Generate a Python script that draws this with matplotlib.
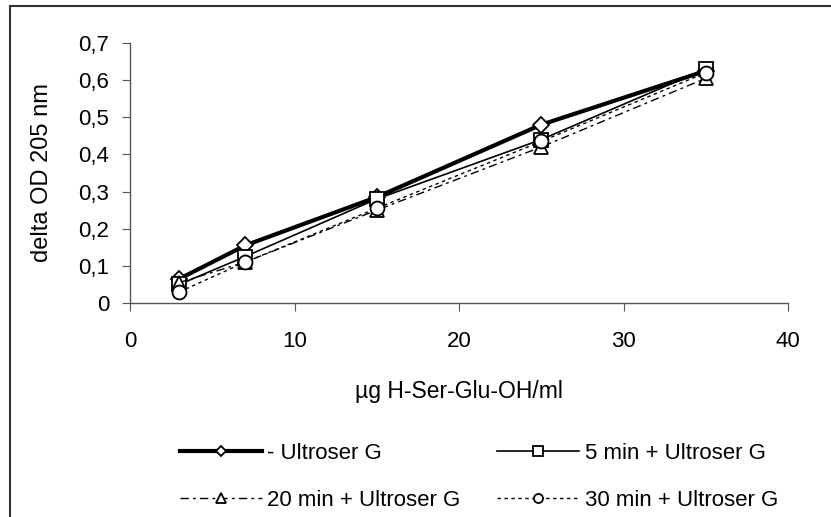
import matplotlib
matplotlib.use("Agg")
import matplotlib.pyplot as plt
from matplotlib.patches import Rectangle
from matplotlib.ticker import FuncFormatter

plt.rcParams['font.family'] = ['Liberation Sans', 'DejaVu Sans']

# data
conc = [3, 7, 15, 25, 35]
no_ultroser = [0.065, 0.155, 0.285, 0.48, 0.625]
min5 = [0.05, 0.125, 0.28, 0.44, 0.63]
min20 = [0.055, 0.11, 0.25, 0.42, 0.605]
min30 = [0.03, 0.11, 0.255, 0.435, 0.62]

labels = ['- Ultroser G', '5 min + Ultroser G', '20 min + Ultroser G', '30 min + Ultroser G']

fig = plt.figure(figsize=(8.31, 5.17), dpi=100)
ax = fig.add_axes([130/831, 1-303/517, (788-130)/831, (303-43)/517])

mk = dict(markerfacecolor='white', markeredgecolor='black', markersize=10, markeredgewidth=1.3)
ax.plot(conc, no_ultroser, color='black', lw=3, marker='D', label=labels[0], **{**mk, 'markersize': 8})
ax.plot(conc, min5, color='black', lw=1.2, marker='s', label=labels[1], **mk)
ax.plot(conc, min20, color='black', lw=1.0, ls=(0, (6, 3, 2, 3)), marker='^', label=labels[2], **mk)
ax.plot(conc, min30, color='black', lw=1.0, ls=(0, (2.5, 2.5)), marker='o', label=labels[3], **mk)

ax.set_xlim(0, 40)
ax.set_ylim(0, 0.7)
ax.set_xticks([0, 10, 20, 30, 40])
ax.set_yticks([0, 0.1, 0.2, 0.3, 0.4, 0.5, 0.6, 0.7])
ax.yaxis.set_major_formatter(FuncFormatter(lambda v, p: ('%g' % round(v, 1)).replace('.', ',')))
for s in ['top', 'right']:
    ax.spines[s].set_visible(False)
for s in ['left', 'bottom']:
    ax.spines[s].set_color('#555555')
    ax.spines[s].set_linewidth(1.0)
ax.tick_params(direction='out', length=6, color='#555555', labelsize=16)
ax.tick_params(axis='x', pad=14)
ax.tick_params(axis='y', pad=9)
ax.set_xlabel('µg H-Ser-Glu-OH/ml', fontsize=16.5, labelpad=20)
ax.set_ylabel('delta OD 205 nm', fontsize=17, labelpad=18)

# legend rows: (- Ultroser G, 5 min) then (20 min, 30 min)
handles, labs = ax.get_legend_handles_labels()
order = [0, 2, 1, 3]
leg = fig.legend([handles[i] for i in order], [labs[i] for i in order], ncol=2, frameon=False,
                 loc='center left', bbox_to_anchor=(164/831, 1-477/517), fontsize=16,
                 handlelength=3.7, handletextpad=0.25, columnspacing=1.65,
                 labelspacing=1.15, markerscale=0.65, borderpad=0.2)

fig.patches.append(Rectangle((10/831, -0.1), 1.2, 1-6/517+0.1, transform=fig.transFigure,
                             fill=False, edgecolor='#333333', lw=1.5))

fig.savefig('out.png', dpi=100)
